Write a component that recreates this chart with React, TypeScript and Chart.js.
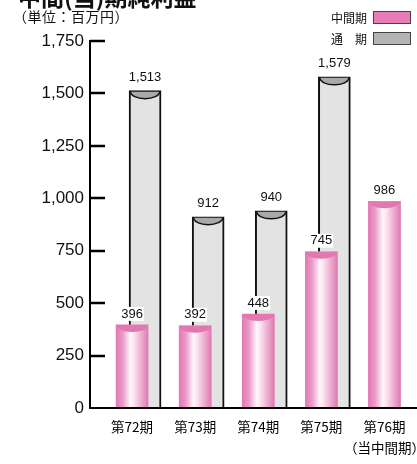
import React, { useEffect, useRef } from "react";
import { Chart, registerables } from "chart.js";

Chart.register(...registerables);

const categories = ["第72期", "第73期", "第74期", "第75期", "第76期"];
const categoryNotes = ["", "", "", "", "（当中間期）"];
const interimValues = [396, 392, 448, 745, 986];
const fullYearValues: (number | null)[] = [1513, 912, 940, 1579, null];
const yTickValues = [0, 250, 500, 750, 1000, 1250, 1500, 1750];
const legendLabels = ["中間期", "通　期"];
const titleText = "中間(当)期純利益";
const unitText = "（単位：百万円）";

const FONT = "'Liberation Sans', Arial, 'Noto Sans CJK JP', sans-serif";
const CJK = "'Noto Sans CJK JP', 'Liberation Sans', sans-serif";
const GRAY_OFFSET = 0.206;

const cylinderPlugin = {
  id: "cylinder",
  afterDatasetDraw(chart: any, args: any) {
    const ctx = chart.ctx as CanvasRenderingContext2D;
    const meta = args.meta;
    const ds = chart.data.datasets[args.index];
    ctx.save();
    meta.data.forEach((el: any, i: number) => {
      if (el.skip || ds.data[i]?.y == null) return;
      const { x, y, base, width } = el.getProps(["x", "y", "base", "width"], true);
      if (y == null || isNaN(y)) return;
      const l = x - width / 2;
      if (args.index === 0) {
        const g = ctx.createLinearGradient(l, 0, l + width, 0);
        g.addColorStop(0, "#e27ab4");
        g.addColorStop(0.2, "#ea98c6");
        g.addColorStop(0.45, "#fff6fb");
        g.addColorStop(0.55, "#fbe6f1");
        g.addColorStop(1, "#e07ab2");
        ctx.fillStyle = g;
        ctx.fillRect(l, y, width, base - y);
        ctx.beginPath();
        ctx.moveTo(l, y);
        ctx.lineTo(l + width, y);
        ctx.ellipse(x, y, width / 2, 7, 0, 0, Math.PI, false);
        ctx.closePath();
        ctx.fillStyle = "#e277b2";
        ctx.fill();
      } else {
        const hw = width / 2 - 1.5;
        ctx.beginPath();
        ctx.moveTo(x - hw, y + 1);
        ctx.lineTo(x + hw, y + 1);
        ctx.ellipse(x, y + 1, hw, 7, 0, 0, Math.PI, false);
        ctx.closePath();
        ctx.fillStyle = "#a9a9a9";
        ctx.fill();
        ctx.beginPath();
        ctx.ellipse(x, y + 1, hw, 7, 0, 0, Math.PI, false);
        ctx.strokeStyle = "#111";
        ctx.lineWidth = 1.5;
        ctx.stroke();
      }
    });
    ctx.restore();
  },
  afterDatasetsDraw(chart: any) {
    const ctx = chart.ctx as CanvasRenderingContext2D;
    ctx.save();
    ctx.font = `13px ${FONT}`;
    ctx.textAlign = "center";
    ctx.textBaseline = "middle";
    [1, 0].forEach((di) => {
      const ds = chart.data.datasets[di];
      const meta = chart.getDatasetMeta(di);
      meta.data.forEach((el: any, i: number) => {
        const v = ds.data[i]?.y;
        if (v == null) return;
        const txt = Number(v).toLocaleString("en-US");
        const ty = el.y - (di === 0 ? 11 : 13);
        const tw = ctx.measureText(txt).width;
        ctx.fillStyle = "#fff";
        ctx.fillRect(el.x - tw / 2 - 1, ty - 7, tw + 2, 14);
        ctx.fillStyle = "#111";
        ctx.fillText(txt, el.x, ty);
      });
    });
    // inward y tick marks
    const ys = chart.scales.y;
    const left = chart.chartArea.left;
    ctx.strokeStyle = "#000";
    ctx.lineWidth = 2.5;
    yTickValues.forEach((v) => {
      if (v === 0) return;
      const py = Math.round(ys.getPixelForValue(v));
      ctx.beginPath();
      ctx.moveTo(left, py);
      ctx.lineTo(left + 15, py);
      ctx.stroke();
    });
    ctx.restore();
  },
};

export default function App() {
  const ref = useRef<HTMLCanvasElement | null>(null);

  useEffect(() => {
    if (!ref.current) return;
    const chart = new Chart(ref.current, {
      type: "bar",
      data: {
        datasets: [
          {
            label: legendLabels[0],
            data: interimValues.map((v, i) => ({ x: i, y: v })),
            backgroundColor: "#e57db6",
            borderWidth: 0,
            barThickness: 32,
            grouped: false,
          } as any,
          {
            label: legendLabels[1],
            data: fullYearValues.map((v, i) => ({ x: i + GRAY_OFFSET, y: v })),
            backgroundColor: "#e3e3e3",
            borderColor: "#111",
            borderWidth: 2,
            borderSkipped: "bottom",
            barThickness: 32,
            grouped: false,
          } as any,
        ],
      },
      options: {
        responsive: false,
        animation: false,
        devicePixelRatio: 1,
        layout: { padding: { top: 41, right: 1, bottom: 0, left: 0 } },
        plugins: {
          legend: { display: false },
          tooltip: { enabled: false },
        },
        scales: {
          x: {
            type: "linear",
            offset: false,
            min: -2 / 3,
            max: 4.5,
            afterBuildTicks: (s: any) => {
              s.ticks = categories.map((_, i) => ({ value: i }));
            },
            afterFit: (s: any) => {
              s.height = 56;
              s.paddingLeft = 0;
              s.paddingRight = 0;
            },
            grid: { display: false, drawTicks: false, offset: false },
            border: { display: true, color: "#000", width: 2, z: 1 } as any,
            ticks: {
              autoSkip: false,
              maxRotation: 0,
              padding: 9,
              color: "#000",
              font: { family: CJK, size: 13.5, lineHeight: 1.52 },
              callback: (v: any) => {
                const i = Math.round(Number(v));
                const c = categories[i];
                if (c == null) return "";
                return categoryNotes[i] ? [c, categoryNotes[i]] : c;
              },
            },
          },
          y: {
            min: 0,
            max: 1750,
            afterBuildTicks: (s: any) => {
              s.ticks = yTickValues.map((v) => ({ value: v }));
            },
            afterFit: (s: any) => {
              s.width = 90;
              s.paddingTop = 0;
              s.paddingBottom = 0;
            },
            grid: { display: false, drawTicks: false },
            border: { display: true, color: "#000", width: 2, z: 1 } as any,
            ticks: {
              padding: 6,
              color: "#111",
              font: { family: FONT, size: 17 },
              callback: (v: any) => Number(v).toLocaleString("en-US"),
            },
          },
        },
      },
      plugins: [cylinderPlugin],
    });
    return () => chart.destroy();
  }, []);

  return (
    <div style={{ position: "absolute", left: 0, top: 0, width: 417, height: 464, overflow: "hidden", background: "#fff" }}>
      <canvas ref={ref} width={417} height={464} style={{ position: "absolute", left: 0, top: 0, width: 417, height: 464 }} />
      <div style={{ position: "absolute", left: 18, top: -15, fontFamily: CJK, fontWeight: 700, fontSize: 23, lineHeight: "22px", whiteSpace: "nowrap", color: "#111" }}>
        {titleText}
      </div>
      <div style={{ position: "absolute", left: 13, top: 9, fontFamily: CJK, fontSize: 14, lineHeight: "14px", letterSpacing: 0.5, whiteSpace: "nowrap", color: "#111" }}>
        {unitText}
      </div>
      {legendLabels.map((lab, i) => (
        <div key={lab} style={{ position: "absolute", right: 6, top: 11 + i * 21, display: "flex", alignItems: "center", gap: 6 }}>
          <span style={{ fontFamily: CJK, fontSize: 12, lineHeight: "13px", color: "#111" }}>{lab}</span>
          <span style={{ display: "inline-block", width: 36, height: 11, background: i === 0 ? "#e87cb8" : "#b4b4b4", border: "1px solid #444" }} />
        </div>
      ))}
    </div>
  );
}
